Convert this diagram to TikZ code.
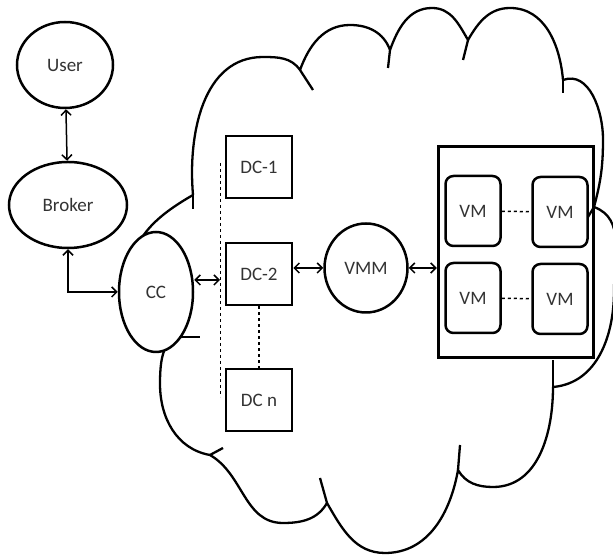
\documentclass[tikz,border=0pt]{standalone}
\usepackage{fontspec}
\setmainfont{Carlito}
\usetikzlibrary{shapes.geometric,arrows.meta}
\tikzset{
  lbl/.style={font=\fontsize{19}{21}\selectfont, text=black!80},
  ent/.style={ellipse, draw, line width=2.5pt, fill=white, inner sep=0pt, lbl},
  dcbox/.style={rectangle, draw, line width=2.6pt, fill=white, minimum width=66pt, minimum height=62pt, lbl},
  vmbox/.style={rectangle, rounded corners=8pt, draw, line width=2.5pt, fill=white, minimum width=55pt, minimum height=70pt, lbl},
  dblarr/.style={{Straight Barb[length=5pt,width=10pt]}-{Straight Barb[length=5pt,width=10pt]}, line width=1.5pt},
}
\begin{document}
\begin{tikzpicture}[x=1pt,y=1pt]
\useasboundingbox (0,0) rectangle (613,559);
% cloud
\draw[line width=2.3pt, line join=round]
 (193,364) to[out=95,in=180] (263,502) to[out=0,in=125] (300,489)
 to[out=70,in=180] (350,534) to[out=0,in=110] (390,509)
 to[out=70,in=180] (432,551) to[out=0,in=120] (468,519)
 to[out=60,in=180] (510,551) to[out=0,in=95] (563,479)
 to[out=20,in=90] (603,420) to[out=-90,in=75] (594,352)
 to[out=-20,in=90] (614,268) to[out=-90,in=5] (553,172)
 to[out=-90,in=0] (493,72) to[out=180,in=-60] (458,89)
 to[out=-100,in=0] (385,6) to[out=180,in=-60] (327,56)
 to[out=-120,in=0] (283,36) to[out=180,in=-30] (210,104)
 to[out=170,in=-90] (160,175) to[out=90,in=180] (182,222)
 to[out=180,in=-90] (130,280) to[out=90,in=-150] (193,364);
\foreach \a/\b in {{193,364}/{193,350}, {300,489}/{313,469}, {390,509}/{388,491},
  {468,519}/{463,499}, {563,479}/{563,466}, {594,352}/{588,342}, {553,172}/{553,199},
  {458,89}/{460,114}, {327,56}/{320,81}, {210,104}/{223,111}, {182,222}/{200,222}}
  \draw[line width=2.3pt] (\a) -- (\b);

% nodes
\node[ent, minimum width=96pt, minimum height=86pt] (user) at (65,494) {User};
\node[ent, minimum width=118pt, minimum height=86pt] (broker) at (68,354) {Broker};
\node[ent, minimum width=74pt, minimum height=120pt] (cc) at (156,267) {CC};
\node[dcbox] (dc1) at (259,392) {DC-1};
\node[dcbox] (dc2) at (259,285) {DC-2};
\node[dcbox] (dcn) at (259,159) {DC n};
\node[ent, minimum width=83pt, minimum height=89pt] (vmm) at (366,291) {VMM};
\node[rectangle, draw, line width=3.5pt, minimum width=155pt, minimum height=211pt] (host) at (516,307) {};
\node[vmbox] (vm1) at (473,348) {VM};
\node[vmbox] (vm2) at (560,347) {VM};
\node[vmbox] (vm3) at (473,261) {VM};
\node[vmbox] (vm4) at (560,260) {VM};

% bus line
\coordinate (bustop) at (220,396);
\coordinate (busbot) at (220,162);
\coordinate (bus) at (220,279);
\draw[dashed, line width=0.9pt] (bustop) -- (busbot);
\draw[dashed, line width=1.2pt] (dc2) -- (dcn);
\draw[dashed, line width=1.5pt] (vm1) -- (vm2);
\draw[dashed, line width=1.5pt] (vm3) -- (vm4);

% arrows
\draw[dblarr] (user) -- (broker);
\draw[dblarr] (broker.south) |- (cc.west);
\draw[dblarr] (cc.east |- bus) -- (bus);
\draw[dblarr] (dc2.east |- vmm.west) -- (vmm.west);
\draw[dblarr] (vmm.east) -- (host.west |- vmm.east);
\end{tikzpicture}
\end{document}
